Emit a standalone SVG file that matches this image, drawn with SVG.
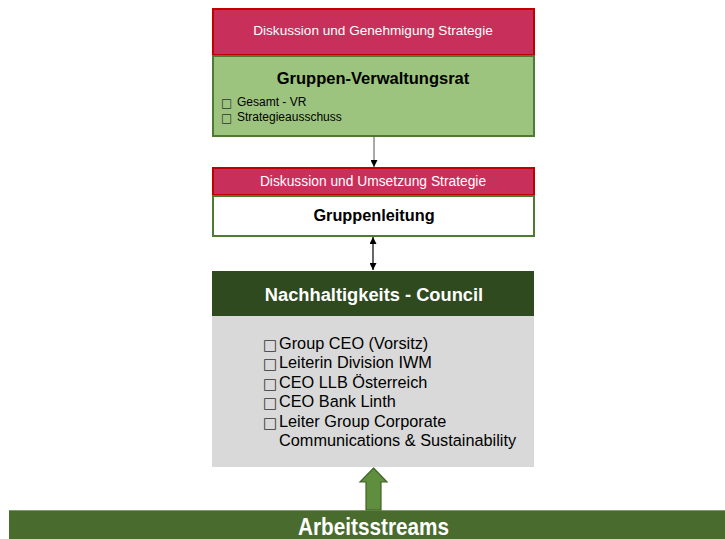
<svg xmlns="http://www.w3.org/2000/svg" width="725" height="539" viewBox="0 0 725 539">
  <style>
    .t { font-family: "Liberation Sans", Arial, sans-serif; }
    .w { fill: #ffffff; }
    .k { fill: #000000; }
    .b { font-weight: bold; }
    .band { fill: #c92f5b; stroke: #c00000; stroke-width: 2; }
    .box { stroke: #4f7a34; stroke-width: 2; }
    .bul { font-family: "DejaVu Sans", sans-serif; fill: #333333; }
  </style>
  <defs>
    <marker id="ah" viewBox="0 0 10 10" refX="10" refY="5" markerWidth="7" markerHeight="7" orient="auto-start-reverse" markerUnits="userSpaceOnUse">
      <path d="M0,0 L10,5 L0,10 z" fill="#000000"/>
    </marker>
  </defs>

  <g id="verwaltungsrat">
    <rect class="band" x="213" y="9" width="321" height="46"/>
    <text class="t w" x="373" y="35" font-size="13.6" text-anchor="middle">Diskussion und Genehmigung Strategie</text>
    <rect class="box" x="213" y="56" width="321" height="80" fill="#9dc47f"/>
    <text class="t k b" x="373" y="84" font-size="16.5" text-anchor="middle">Gruppen-Verwaltungsrat</text>
    <text class="bul" x="221" y="107" font-size="12">□</text>
    <text class="t k" x="237" y="106" font-size="12">Gesamt - VR</text>
    <text class="bul" x="221" y="122" font-size="12">□</text>
    <text class="t k" x="237" y="121" font-size="12">Strategieausschuss</text>
  </g>

  <g id="gruppenleitung">
    <rect class="band" x="213" y="168" width="321" height="27"/>
    <text class="t w" x="373" y="186" font-size="13.8" text-anchor="middle">Diskussion und Umsetzung Strategie</text>
    <rect class="box" x="213" y="196" width="321" height="40" fill="#ffffff"/>
    <text class="t k b" x="374" y="221" font-size="16.3" text-anchor="middle">Gruppenleitung</text>
  </g>

  <g id="council">
    <rect x="212" y="271" width="322" height="45" fill="#2f4a1f"/>
    <text class="t w b" x="374" y="301" font-size="18.3" text-anchor="middle">Nachhaltigkeits - Council</text>
    <rect x="212" y="316" width="322" height="151" fill="#d9d9d9"/>
    <g font-size="16.3">
      <text class="bul" x="263" y="350" font-size="15">□</text>
      <text class="t k" x="279" y="349">Group CEO (Vorsitz)</text>
      <text class="bul" x="263" y="369" font-size="15">□</text>
      <text class="t k" x="279" y="368">Leiterin Division IWM</text>
      <text class="bul" x="263" y="389" font-size="15">□</text>
      <text class="t k" x="279" y="388">CEO LLB Österreich</text>
      <text class="bul" x="263" y="408" font-size="15">□</text>
      <text class="t k" x="279" y="407">CEO Bank Linth</text>
      <text class="bul" x="263" y="428" font-size="15">□</text>
      <text class="t k" x="279" y="427">Leiter Group Corporate</text>
      <text class="t k" x="279" y="446">Communications &amp; Sustainability</text>
    </g>
  </g>

  <g id="arbeitsstreams">
    <rect x="9" y="510" width="716" height="29" fill="#4a6b2e"/>
    <line x1="9" y1="510.5" x2="725" y2="510.5" stroke="#7e9a63" stroke-width="1"/>
    <text class="t w b" x="298" y="535" font-size="23" textLength="151" lengthAdjust="spacingAndGlyphs">Arbeitsstreams</text>
  </g>

  <g id="connectors">
    <line x1="374" y1="136" x2="374" y2="167" stroke="#555555" stroke-width="1" marker-end="url(#ah)"/>
    <line x1="373" y1="237" x2="373" y2="270" stroke="#000000" stroke-width="1.2" marker-start="url(#ah)" marker-end="url(#ah)"/>
    <path d="M373.5,468 L387,482 L381,482 L381,510 L366,510 L366,482 L360,482 Z" fill="#5f8f3e" stroke="#3e6325" stroke-width="1.2"/>
  </g>
</svg>
